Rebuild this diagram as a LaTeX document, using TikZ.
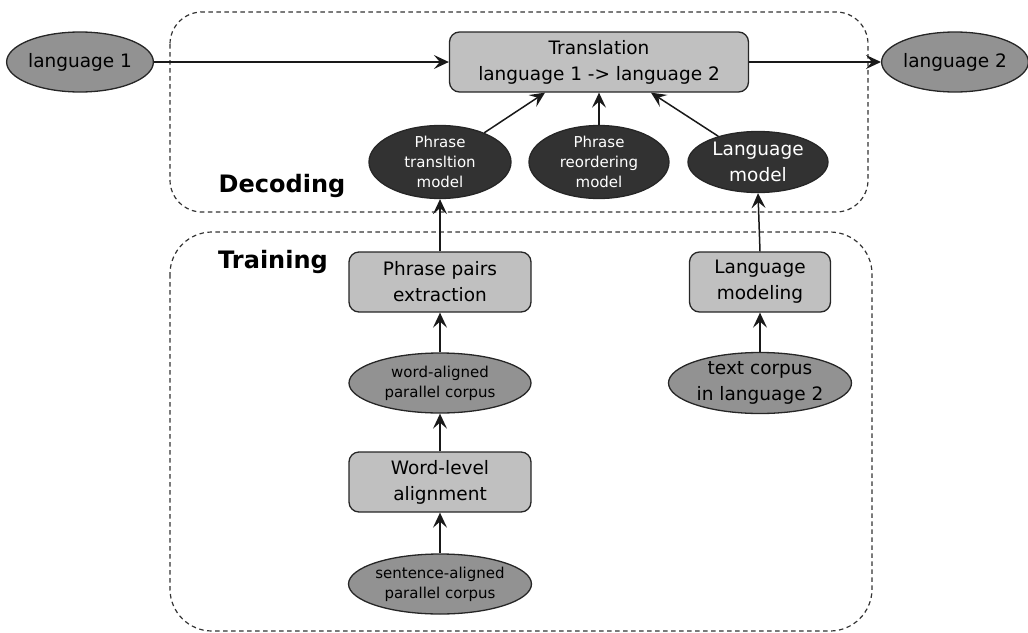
\documentclass[tikz,border=0pt]{standalone}
\usepackage{fontspec}
\setmainfont{DejaVu Sans}
\usetikzlibrary{arrows.meta,shapes.geometric,calc}
\definecolor{boxfill}{RGB}{192,192,192}
\definecolor{datafill}{RGB}{146,146,146}
\definecolor{modelfill}{RGB}{50,50,50}
\begin{document}
\begin{tikzpicture}[x=1pt,y=-1pt,
  txt/.style={font=\fontsize{18.5}{26}\selectfont, align=center, inner sep=0pt},
  smalltxt/.style={font=\fontsize{15}{20}\selectfont, align=center, inner sep=0pt},
  procbox/.style={txt, draw=black!85, line width=1.3pt, fill=boxfill, rounded corners=10pt},
  datanode/.style={ellipse, draw=black!85, line width=1.3pt, fill=datafill, inner sep=0pt},
  modelnode/.style={ellipse, draw=black!85, line width=1.3pt, fill=modelfill, text=white, inner sep=0pt},
  region/.style={draw=black!80, dash pattern=on 4.5pt off 3.5pt, line width=1.2pt},
  arr/.style={-{Stealth[length=15pt,width=14pt,inset=6pt]}, line width=1.5pt, draw=black!90},
  title/.style={font=\fontsize{24}{28}\selectfont\bfseries, inner sep=0pt}]
\useasboundingbox (0,0) rectangle (1028,632);

% the two stages
\draw[region, rounded corners=32pt] (170,12) rectangle (868,212);
\draw[region, rounded corners=42pt] (170,232) rectangle (872,631);
\node[title] (dec) at (282,186) {Decoding};
\node[title] (trn) at (273,262) {Training};

% decoding
\node[datanode, txt, minimum width=143pt, minimum height=60pt] (l1) at (80,62) {language 1};
\node[procbox, minimum width=299pt, minimum height=60pt] (trans) at (599,62) {Translation\\language 1 -> language 2};
\node[datanode, txt, minimum width=140pt, minimum height=60pt] (l2) at (955,62) {language 2};

\node[modelnode, smalltxt, minimum width=142pt, minimum height=61pt] (ptm) at (440,162) {Phrase\\transltion\\model};
\node[modelnode, smalltxt, minimum width=140pt, minimum height=61pt] (prm) at (599,162) {Phrase\\reordering\\model};
\node[modelnode, txt, minimum width=140pt, minimum height=61pt] (lm) at (758,162) {Language\\model};

\coordinate (tA) at ($(trans.south)+(-54,0)$);
\coordinate (tB) at ($(trans.south)+(52,0)$);

\draw[arr] (l1) -- (trans);
\draw[arr] (trans) -- (l2);
\draw[arr] (ptm) -- (tA);
\draw[arr] (prm) -- (trans);
\draw[arr] (lm) -- (tB);

% training
\node[procbox, minimum width=182pt, minimum height=60pt] (ppe) at (440,282) {Phrase pairs\\extraction};
\node[datanode, smalltxt, minimum width=182pt, minimum height=60pt] (wac) at (440,383) {word-aligned\\parallel corpus};
\node[procbox, minimum width=182pt, minimum height=60pt] (wla) at (440,482) {Word-level\\alignment};
\node[datanode, smalltxt, minimum width=182pt, minimum height=60pt] (sac) at (440,584) {sentence-aligned\\parallel corpus};

\node[procbox, minimum width=141pt, minimum height=60pt] (lmod) at (760,282) {Language\\modeling};
\node[datanode, txt, minimum width=183pt, minimum height=61pt] (tc) at (760,383) {text corpus\\in language 2};

\draw[arr] (sac) -- (wla);
\draw[arr] (wla) -- (wac);
\draw[arr] (wac) -- (ppe);
\draw[arr] (ppe) -- (ptm);
\draw[arr] (tc) -- (lmod);
\draw[arr] (lmod.north) -- (lm.south);
\end{tikzpicture}
\end{document}
